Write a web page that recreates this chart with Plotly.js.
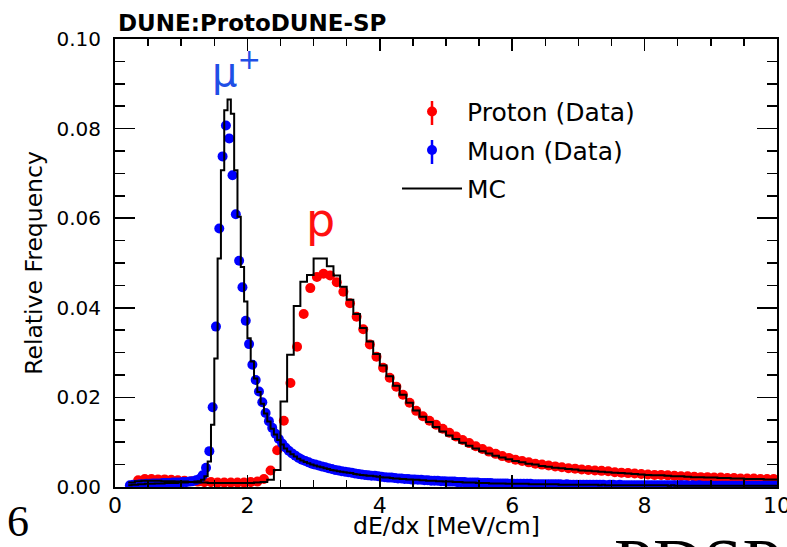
<!DOCTYPE html>
<html>
<head>
<meta charset="utf-8">
<script src="https://cdn.plot.ly/plotly-3.0.1.min.js"></script>
<style>html,body{margin:0;padding:0;background:#fff;}#chart{width:787px;height:547px;}</style>
</head>
<body>
<div id="chart"></div>
<script>
// ---------- DATA ----------
// Proton data: bin width 0.1, first bin centre 0.35
const protonStart = 0.35, protonStep = 0.1;
const protonData = [
 0.0015,0.0018,0.0018,0.0017,0.0017,0.0016,0.0015,0.0014,0.0013,0.0012,
 0.0011,0.0011,0.0010,0.0010,0.0010,0.0010,0.0010,0.0011,0.0012,0.0018,
 0.0037,0.0082,0.0148,0.0232,0.0313,0.0386,0.0444,0.0469,0.0476,0.0472,
 0.0457,0.0436,0.0410,0.0380,0.0352,0.0318,0.0291,0.0266,0.0244,0.0224,
 0.0206,0.0188,0.0170,0.0158,0.0148,0.0139,0.0130,0.0121,0.0113,0.0105,
 0.0098,0.0091,0.0085,0.0079,0.0074,0.0069,0.0065,0.0061,0.0058,0.0055,
 0.0052,0.0050,0.0048,0.0046,0.0044,0.0042,0.0041,0.0039,0.0038,0.0037,
 0.0036,0.0035,0.0033,0.0032,0.0031,0.0030,0.0029,0.0028,0.0027,0.0027,
 0.0026,0.0025,0.0024,0.0024,0.0023,0.0022,0.0022,0.0021,0.0021,0.0020,
 0.0020,0.0019,0.0019,0.0019,0.0018,0.0018,0.0018
];
// Muon data: bin width 0.05, first bin centre 0.225
const muonStart = 0.225, muonStep = 0.05;
const muonData = [
 0.0004,0.0005,0.0005,0.0006,0.0006,0.0007,0.0007,0.0008,0.0008,0.0008,
 0.0009,0.0009,0.0009,0.0010,0.0010,0.0010,0.0011,0.0011,0.0012,0.0013,
 0.0015,0.0018,0.0026,0.0043,0.0080,0.0178,0.0358,0.0577,0.0738,0.0807,
 0.0778,0.0696,0.0609,0.0505,0.0446,0.0371,0.0319,0.0273,0.0239,0.0213,
 0.0189,0.0165,0.0147,0.0132,0.0119,0.0107,0.0097,0.0088,0.0081,0.0075,
 0.0070,0.0065,0.0061,0.0058,0.0055,0.0052,0.0050,0.0048,0.0046,0.0044,
 0.0042,0.0040,0.0038,0.0037,0.0035,0.0034,0.0033,0.0032,0.0030,0.0029,
 0.0028,0.0027,0.0026,0.0025,0.0025,0.0024,0.0023,0.0022,0.0021,0.0021,
 0.0020,0.0019,0.0019,0.0018,0.0018,0.0017,0.0017,0.0016,0.0016,0.0015,
 0.0015,0.0014,0.0014,0.0014,0.0013,0.0013,0.0012,0.0012,0.0012,0.0011,
 0.0011,0.0011,0.0010,0.0010,0.0010,0.0010,0.0009,0.0009,0.0009,0.0009,
 0.0008,0.0008,0.0008,0.0008,0.0008,0.0007,0.0007,0.0007,0.0007,0.0007,
 0.0007,0.0007,0.0006,0.0006,0.0006,0.0006,0.0006,0.0006,0.0006,0.0006,
 0.0006,0.0005,0.0006,0.0005,0.0005,0.0005,0.0005,0.0005,0.0005,0.0005,
 0.0005,0.0005,0.0005,0.0005,0.0004,0.0005,0.0005,0.0004,0.0005,0.0004,
 0.0004,0.0004,0.0004,0.0004,0.0004,0.0004,0.0004,0.0004,0.0004,0.0004,
 0.0004,0.0004,0.0004,0.0004,0.0004,0.0004,0.0004,0.0004,0.0004,0.0003,
 0.0004,0.0003,0.0004,0.0003,0.0003,0.0003,0.0003,0.0003,0.0003,0.0003,
 0.0003,0.0003,0.0003,0.0003,0.0003,0.0003,0.0003,0.0003,0.0003,0.0003,
 0.0003,0.0003,0.0003,0.0003,0.0003,0.0003
];
// MC (muon sample): bin width 0.05, first bin low edge 0.2
const mcMuonStart = 0.2, mcMuonStep = 0.05;
const mcMuon = [
 0.0004,0.0005,0.0005,0.0006,0.0006,0.0007,0.0007,0.0007,0.0008,0.0008,
 0.0008,0.0009,0.0009,0.0009,0.0009,0.0010,0.0010,0.0010,0.0011,0.0011,
 0.0012,0.0013,0.0016,0.0024,0.0057,0.0139,0.0287,0.0510,0.0707,0.0841,
 0.0865,0.0833,0.0707,0.0603,0.0491,0.0414,0.0332,0.0280,0.0242,0.0212,
 0.0186,0.0164,0.0146,0.0130,0.0117,0.0105,0.0095,0.0086,0.0079,0.0073,
 0.0068,0.0063,0.0059,0.0056,0.0053,0.0050,0.0048,0.0046,0.0044,0.0042,
 0.0040,0.0038,0.0037,0.0035,0.0034,0.0033,0.0032,0.0031,0.0029,0.0028,
 0.0027,0.0026,0.0025,0.0025,0.0024,0.0023,0.0022,0.0021,0.0021,0.0020,
 0.0019,0.0019,0.0018,0.0018,0.0017,0.0017,0.0016,0.0016,0.0015,0.0015,
 0.0014,0.0014,0.0014,0.0013,0.0013,0.0012,0.0012,0.0012,0.0011,0.0011,
 0.0011,0.0010,0.0010,0.0010,0.0010,0.0009,0.0009,0.0009,0.0009,0.0008,
 0.0008,0.0008,0.0008,0.0008,0.0007,0.0007,0.0007,0.0007,0.0007,0.0007,
 0.0007,0.0006,0.0006,0.0006,0.0006,0.0006,0.0006,0.0006,0.0006,0.0006,
 0.0005,0.0005,0.0005,0.0005,0.0005,0.0005,0.0005,0.0005,0.0005,0.0005,
 0.0005,0.0005,0.0004,0.0005,0.0004,0.0004,0.0004,0.0004,0.0004,0.0004,
 0.0004,0.0004,0.0004,0.0004,0.0004,0.0004,0.0004,0.0004,0.0004,0.0004,
 0.0004,0.0004,0.0004,0.0003,0.0004,0.0003,0.0003,0.0003,0.0003,0.0003,
 0.0003,0.0003,0.0003,0.0003,0.0003,0.0003,0.0003,0.0003,0.0003,0.0003,
 0.0003,0.0003,0.0003,0.0003,0.0003,0.0003,0.0003,0.0003,0.0003,0.0003,
 0.0003,0.0003,0.0003,0.0003,0.0003,0.0003
];
// MC (proton sample): bin width 0.1, first bin low edge 0.2
const mcProtonStart = 0.2, mcProtonStep = 0.1;
const mcProton = [
 0.0010,0.0013,0.0014,0.0014,0.0014,0.0013,0.0013,0.0012,0.0012,0.0011,
 0.0010,0.0010,0.0009,0.0009,0.0009,0.0009,0.0009,0.0009,0.0009,0.0010,
 0.0011,0.0016,0.0038,0.0191,0.0295,0.0404,0.0458,0.0473,0.0510,0.0510,
 0.0493,0.0472,0.0447,0.0418,0.0386,0.0355,0.0325,0.0297,0.0271,0.0247,
 0.0226,0.0206,0.0188,0.0171,0.0157,0.0145,0.0134,0.0124,0.0115,0.0107,
 0.0099,0.0092,0.0086,0.0080,0.0075,0.0070,0.0066,0.0062,0.0058,0.0055,
 0.0052,0.0050,0.0047,0.0045,0.0043,0.0042,0.0040,0.0039,0.0037,0.0036,
 0.0035,0.0034,0.0033,0.0032,0.0031,0.0030,0.0029,0.0028,0.0027,0.0026,
 0.0026,0.0025,0.0024,0.0024,0.0023,0.0022,0.0022,0.0021,0.0021,0.0020,
 0.0020,0.0019,0.0019,0.0018,0.0018,0.0018,0.0017,0.0017
];
const seriesNames = ['Proton (Data)', 'Muon (Data)', 'MC'];
const xTickVals = [0, 2, 4, 6, 8, 10];
const yTickVals = [0.00, 0.02, 0.04, 0.06, 0.08, 0.10];

// ---------- BUILD ----------
function centres(start, step, n) { const a = []; for (let i = 0; i < n; i++) a.push(+(start + i * step).toFixed(4)); return a; }
function stepEdges(start, step, vals) {
  const x = [], y = [];
  for (let i = 0; i <= vals.length; i++) x.push(+(start + i * step).toFixed(4));
  vals.forEach(v => y.push(v)); y.push(vals[vals.length - 1]);
  return {x, y};
}
const FONT = 'DejaVu Sans';
const mcM = stepEdges(mcMuonStart, mcMuonStep, mcMuon);
const mcP = stepEdges(mcProtonStart, mcProtonStep, mcProton);

const traces = [
  {type:'scatter', mode:'markers', name:seriesNames[0], legendgroup:'p',
   x:centres(protonStart, protonStep, protonData.length), y:protonData,
   marker:{color:'#ff0000', size:10}, cliponaxis:true},
  {type:'scatter', mode:'markers', name:seriesNames[1], legendgroup:'m',
   x:centres(muonStart, muonStep, muonData.length), y:muonData,
   marker:{color:'#0000ff', size:10}, cliponaxis:true},
  {type:'scatter', mode:'lines', name:seriesNames[2], legendgroup:'mc',
   x:mcM.x, y:mcM.y, line:{color:'#000', width:2, shape:'hv'}},
  {type:'scatter', mode:'lines', name:seriesNames[2], legendgroup:'mc', showlegend:false,
   x:mcP.x, y:mcP.y, line:{color:'#000', width:2, shape:'hv'}}
];

// legend error-bar glyphs (decoration next to the legend markers)
const legX = (432 - 115) / 662;
function pyToPaper(py) { return (487 - py) / 448; }
const shapes = [
  {type:'line', xref:'paper', yref:'paper', x0:legX, x1:legX, y0:pyToPaper(101), y1:pyToPaper(125), line:{color:'#ff0000', width:2.5}},
  {type:'line', xref:'paper', yref:'paper', x0:legX, x1:legX, y0:pyToPaper(140), y1:pyToPaper(164), line:{color:'#0000ff', width:2.5}}
];

const layout = {
  width:787, height:547,
  margin:{l:115, r:10, t:39, b:60},
  paper_bgcolor:'#fff', plot_bgcolor:'#fff',
  font:{family:FONT, color:'#000'},
  showlegend:true,
  legend:{x:0.426, y:0.889, xanchor:'left', yanchor:'top', bgcolor:'rgba(0,0,0,0)',
          font:{family:FONT, size:25, color:'#000'}, itemwidth:60, tracegroupgap:3,
          traceorder:'grouped'},
  shapes: shapes,
  xaxis:{range:[0,10], tickvals:xTickVals, ticktext:xTickVals.map(String),
         ticks:'inside', ticklen:12, tickwidth:1.5, tickcolor:'#000',
         minor:{dtick:0.5, ticks:'inside', ticklen:7, tickwidth:1.5, tickcolor:'#000'},
         showline:true, linecolor:'#000', linewidth:2, mirror:'ticks',
         showgrid:false, zeroline:false, tickfont:{family:FONT, size:22},
         ticklabelstandoff:-2, ticklabeloverflow:'allow'},
  yaxis:{range:[0,0.10], tickvals:yTickVals, ticktext:yTickVals.map(v => v.toFixed(2)),
         ticks:'inside', ticklen:20, tickwidth:1.5, tickcolor:'#000',
         minor:{dtick:0.005, ticks:'inside', ticklen:10, tickwidth:1.5, tickcolor:'#000'},
         showline:true, linecolor:'#000', linewidth:2, mirror:'ticks',
         showgrid:false, zeroline:false, tickfont:{family:FONT, size:20},
         ticklabelstandoff:8, ticklabeloverflow:'allow',
         title:{text:'Relative Frequency', font:{family:FONT, size:23.5}, standoff:7}},
  annotations:[
    // chart title
    {xref:'paper', yref:'paper', x:(115.5 - 115) / 662, y:pyToPaper(23), text:'<b>DUNE:ProtoDUNE-SP</b>', showarrow:false,
     font:{family:FONT, size:23, color:'#000'}, xanchor:'left', yanchor:'middle'},
    // x-axis title
    {xref:'paper', yref:'paper', x:0.5, y:pyToPaper(525.5), text:'dE/dx [MeV/cm]', showarrow:false,
     font:{family:FONT, size:23.5, color:'#000'}, xanchor:'center', yanchor:'middle'},
    {xref:'x', yref:'y', x:1.84, y:0.0932, text:'μ<sup>+</sup>', showarrow:false,
     font:{family:FONT, size:40, color:'#1f4fe6'}, xanchor:'center', yanchor:'middle'},
    {xref:'x', yref:'y', x:3.11, y:0.0595, text:'p', showarrow:false,
     font:{family:FONT, size:46, color:'#ff1010'}, xanchor:'center', yanchor:'middle'},
    {xref:'paper', yref:'paper', x:-0.1465, y:-0.078, text:'6', showarrow:false,
     font:{family:'Liberation Serif', size:44, color:'#000'}, xanchor:'center', yanchor:'middle'},
    {xref:'paper', yref:'paper', x:0.751, y:-0.081, text:'PDSP', showarrow:false,
     font:{family:'Liberation Serif', size:70, color:'#000'}, xanchor:'left', yanchor:'top'}
  ]
};

Plotly.newPlot('chart', traces, layout, {displayModeBar:false, staticPlot:true});
</script>
</body>
</html>
